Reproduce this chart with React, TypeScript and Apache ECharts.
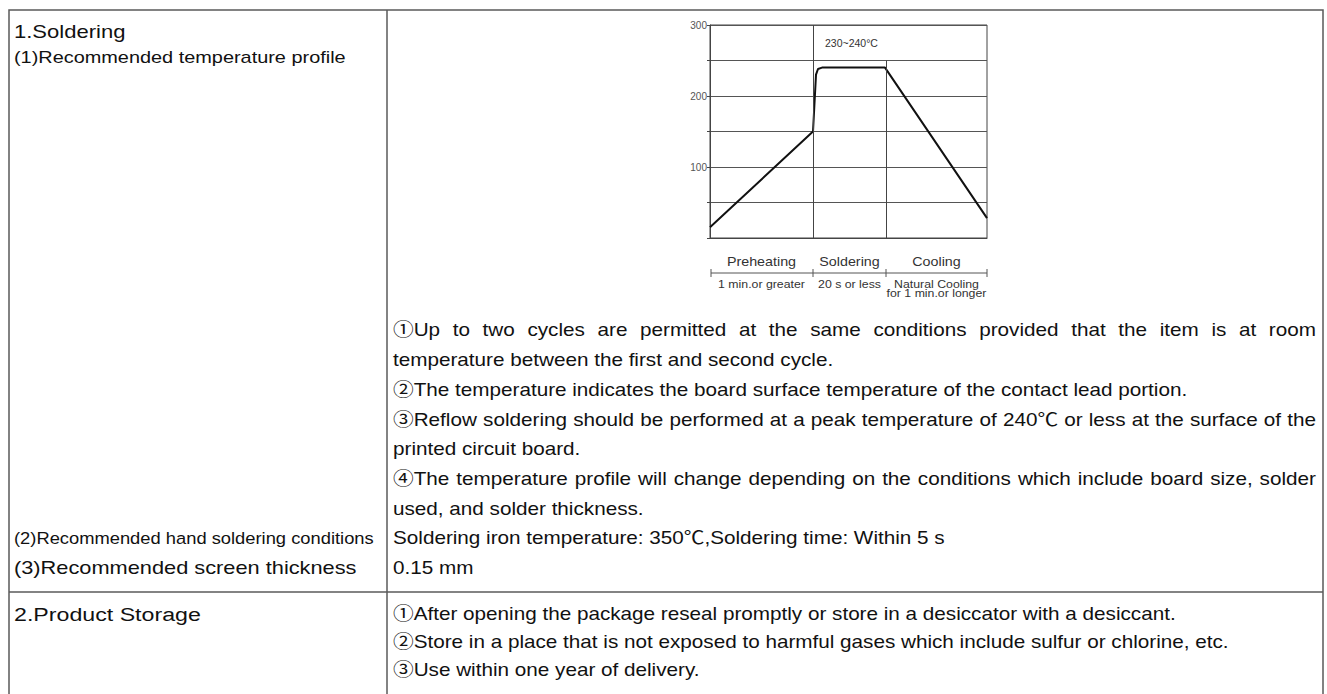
import React, { useEffect, useRef } from 'react';
import * as echarts from 'echarts';

// ---- chart data ----
const TIME_POINTS = [0, 103, 106, 108, 112, 175, 277];
const TEMPERATURES = [15, 150, 230, 238, 240, 240, 28];
const Y_LABELS = [100, 200, 300];
const PHASE_BOUNDS = [0, 103, 176, 277];
const DIVIDER_TOPS = [300, 250];
const PHASE_NAMES = ['Preheating', 'Soldering', 'Cooling'];
const PHASE_TIMES = [['1 min.or greater'], ['20 s or less'], ['Natural Cooling', 'for 1 min.or longer']];
const PEAK_LABEL = '230~240°C';
const PEAK_LABEL_AT = [115, 274];

// ---- table texts ----
const SECTION_1 = '1.Soldering';
const ITEM_1 = '(1)Recommended temperature profile';
const ITEM_2 = '(2)Recommended hand soldering conditions';
const ITEM_3 = '(3)Recommended screen thickness';
const SECTION_2 = '2.Product Storage';
const PROFILE_NOTES = [
  ['①Up to two cycles are permitted at the same conditions provided that the item is at room', 'temperature between the first and second cycle.'],
  ['②The temperature indicates the board surface temperature of the contact lead portion.'],
  ['③Reflow soldering should be performed at a peak temperature of 240℃ or less at the surface of the', 'printed circuit board.'],
  ['④The temperature profile will change depending on the conditions which include board size, solder', 'used, and solder thickness.'],
];
const HAND_SOLDERING = 'Soldering iron temperature: 350℃,Soldering time: Within 5 s';
const SCREEN_THICKNESS = '0.15 mm';
const STORAGE_NOTES = [
  '①After opening the package reseal promptly or store in a desiccator with a desiccant.',
  '②Store in a place that is not exposed to harmful gases which include sulfur or chlorine, etc.',
  '③Use within one year of delivery.',
];

const FAMILY = 'Arial, "Liberation Sans", Helvetica, "Noto Sans CJK JP", sans-serif';
const BODY_SIZE = 18;
const BODY_SCALE = 1.15;

let measureCtx: CanvasRenderingContext2D | null = null;
function measure(text: string, size: number) {
  if (!measureCtx) measureCtx = document.createElement('canvas').getContext('2d');
  measureCtx!.font = `${size}px ${FAMILY}`;
  return measureCtx!.measureText(text).width;
}

function txt(text: string, x: number, y: number, size: number, opts: any = {}) {
  return {
    type: 'text',
    x,
    y,
    scaleX: opts.scaleX ?? 1,
    silent: true,
    style: {
      text,
      fill: opts.fill ?? '#111',
      font: `${size}px ${FAMILY}`,
      textAlign: opts.align ?? 'left',
      textVerticalAlign: 'middle',
    },
  };
}

function justified(text: string, x: number, y: number, width: number, size: number, scale: number) {
  const words = text.split(' ');
  const widths = words.map((w) => measure(w, size) * scale);
  const total = widths.reduce((a, b) => a + b, 0);
  const gap = (width - total) / (words.length - 1);
  const out: any[] = [];
  let cx = x;
  words.forEach((w, i) => {
    out.push(txt(w, cx, y, size, { scaleX: scale }));
    cx += widths[i] + gap;
  });
  return out;
}

export default function App() {
  const ref = useRef<HTMLDivElement>(null);
  useEffect(() => {
    const chart = echarts.init(ref.current!, undefined, { renderer: 'svg' });
    const gridLeft = 710, gridTop = 25, gridW = 277, gridH = 213;
    chart.setOption({
      animation: false,
      grid: { left: gridLeft, top: gridTop, width: gridW, height: gridH, show: true, borderColor: '#444', borderWidth: 1 },
      xAxis: {
        type: 'value', min: PHASE_BOUNDS[0], max: PHASE_BOUNDS[PHASE_BOUNDS.length - 1],
        axisLabel: { show: false }, axisTick: { show: false }, splitLine: { show: false },
        axisLine: { show: true, lineStyle: { color: '#444', width: 1 } },
      },
      yAxis: {
        type: 'value', min: 0, max: 300, interval: 50,
        axisLine: { show: true, lineStyle: { color: '#444', width: 1 } },
        axisTick: { show: true, length: 3, lineStyle: { color: '#444' } },
        axisLabel: {
          fontSize: 10, color: '#555', margin: 3, fontFamily: FAMILY,
          formatter: (v: number) => (Y_LABELS.includes(v) ? String(v) : ''),
        },
        splitLine: { show: true, lineStyle: { color: '#555', width: 1 } },
      },
      series: [
        {
          type: 'line',
          data: TIME_POINTS.map((t, i) => [t, TEMPERATURES[i]]),
          showSymbol: false,
          lineStyle: { color: '#111', width: 2 },
          silent: true,
          markLine: {
            silent: true, symbol: 'none', label: { show: false },
            lineStyle: { color: '#444', width: 1, type: 'solid' },
            data: DIVIDER_TOPS.map((top, i) => [
              { coord: [PHASE_BOUNDS[i + 1], 0] },
              { coord: [PHASE_BOUNDS[i + 1], top] },
            ]),
          },
          markPoint: {
            silent: true, symbol: 'rect', symbolSize: 0,
            label: { show: true, position: 'right', distance: 0, formatter: PEAK_LABEL, fontSize: 10.5, color: '#333', fontFamily: FAMILY },
            data: [{ coord: PEAK_LABEL_AT }],
          },
        },
      ],
    });

    const px = (v: number) => chart.convertToPixel({ gridIndex: 0 }, [v, 0]) as number[];
    const bottom = px(0)[1];
    const lineY = bottom + 35;
    const g: any[] = [];
    // timeline
    const xs = PHASE_BOUNDS.map((b) => px(b)[0]);
    g.push({ type: 'line', silent: true, shape: { x1: xs[0] + 1, y1: lineY, x2: xs[xs.length - 1], y2: lineY }, style: { stroke: '#555', lineWidth: 1 } });
    xs.forEach((x, i) => g.push({ type: 'line', silent: true, shape: { x1: x + (i === 0 ? 1 : 0), y1: lineY - 4, x2: x + (i === 0 ? 1 : 0), y2: lineY + 4 }, style: { stroke: '#555', lineWidth: 1 } }));
    PHASE_NAMES.forEach((n, i) => {
      const cx = (xs[i] + xs[i + 1]) / 2;
      g.push(txt(n, cx, lineY - 11, 13, { align: 'center', fill: '#333', scaleX: 1.1 }));
      PHASE_TIMES[i].forEach((t, j) => g.push(txt(t, cx, lineY + 11 + j * 9, 11, { align: 'center', fill: '#333', scaleX: 1.12 })));
    });

    // table frame
    const L = 9, R = 1323, T = 10, B = 720, MID = 387, ROW = 592;
    const stroke = { stroke: '#5a5a5a', lineWidth: 1.5 };
    g.push({ type: 'rect', silent: true, shape: { x: L, y: T, width: R - L, height: B - T }, style: { fill: 'none', ...stroke } });
    g.push({ type: 'line', silent: true, shape: { x1: MID, y1: T, x2: MID, y2: B }, style: stroke });
    g.push({ type: 'line', silent: true, shape: { x1: L, y1: ROW, x2: R, y2: ROW }, style: stroke });

    // right column
    const RX = 393, RW = 1316 - 393, PITCH = 29.7;
    let y = 330;
    PROFILE_NOTES.forEach((para) => {
      para.forEach((line, i) => {
        if (i < para.length - 1) g.push(...justified(line, RX, y, RW, BODY_SIZE, BODY_SCALE));
        else g.push(txt(line, RX, y, BODY_SIZE, { scaleX: BODY_SCALE }));
        y += PITCH;
      });
    });
    const handY = y;
    const screenY = y + PITCH;
    g.push(txt(HAND_SOLDERING, RX, handY, BODY_SIZE, { scaleX: BODY_SCALE }));
    g.push(txt(SCREEN_THICKNESS, RX, screenY, BODY_SIZE, { scaleX: BODY_SCALE }));
    const storeY = 614;
    STORAGE_NOTES.forEach((line, i) => g.push(txt(line, RX, storeY + i * 28, BODY_SIZE, { scaleX: BODY_SCALE })));

    // left column
    const LX = 14;
    g.push(txt(SECTION_1, LX, 31, 19, { scaleX: 1.16 }));
    g.push(txt(ITEM_1, LX, 57, 17, { scaleX: 1.17 }));
    g.push(txt(ITEM_2, LX, handY, 17, { scaleX: 360 / measure(ITEM_2, 17) }));
    g.push(txt(ITEM_3, LX, screenY, 18, { scaleX: 343 / measure(ITEM_3, 18) }));
    g.push(txt(SECTION_2, LX, storeY, 19, { scaleX: 1.22 }));

    chart.setOption({ graphic: g });
    return () => chart.dispose();
  }, []);
  return <div ref={ref} style={{ position: 'fixed', left: 0, top: 0, width: 1327, height: 694, background: '#fff' }} />;
}
